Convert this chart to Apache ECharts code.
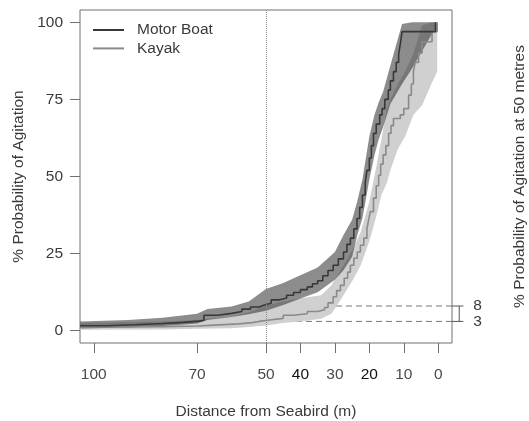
<!DOCTYPE html>
<html>
<head>
<meta charset="utf-8">
<script src="https://cdn.jsdelivr.net/npm/echarts@6/dist/echarts.min.js"></script>
<style>
  html, body { margin: 0; padding: 0; background: #fff; }
  #chart { width: 529px; height: 421px; }
</style>
</head>
<body>
<div id="chart"></div>
<script>
// distance from seabird (m), % probability of agitation
const motorLine = [
  [104, 1.6], [96, 1.9], [88, 2.3], [80, 2.7], [74, 3.1], [69.5, 3.4], [68, 5.0], [64, 5.6],
  [60, 6.2], [57, 7.0], [54.5, 7.7], [52, 8.3], [50.5, 8.9], [48.5, 10.0], [46, 10.6], [44, 11.5],
  [42, 12.4], [40, 13.3], [38, 14.2], [36.5, 15.2], [35, 16.2], [33.5, 17.8], [32, 19.5],
  [30.5, 21.2], [29, 23.3], [27.5, 25.5], [26.5, 28], [25.5, 30], [24.5, 33], [23.6, 36.4],
  [22.8, 40], [22, 44], [21.2, 48], [20.7, 52], [20, 56], [19.4, 60], [18.8, 64], [18, 67],
  [17, 70], [16.3, 72], [15.5, 75], [14.5, 78], [13.9, 81], [13, 84], [12.2, 87], [11.5, 89.5],
  [11, 93], [10.5, 97], [0.8, 100]
];
// [distance, lower, upper]
const motorBand = [
  [104, 0.7, 3.0], [90, 1.0, 3.5], [80, 1.5, 4.2], [70, 2.3, 5.5], [67, 3.5, 7.0], [60, 4.4, 7.8],
  [55, 5.3, 9.5], [50, 6.5, 13.5], [45, 8.3, 15.5], [40, 10.4, 18], [35, 12.5, 20.5],
  [30, 16.5, 25.5], [27.5, 19.6, 31], [25, 24, 36], [23.5, 31, 42], [22, 36.5, 49], [20, 49, 63],
  [18.5, 57, 70], [17.3, 62, 74], [16, 66, 77.5], [13.9, 73.5, 86], [10.5, 80, 99.5],
  [7.6, 85, 100], [1.4, 97, 100], [0.5, 97, 100]
];
const kayakLine = [
  [104, 1.2], [90, 1.3], [80, 1.5], [70, 1.8], [65, 2.2], [58, 2.6], [54, 3.0], [52, 3.4],
  [49.5, 4.0], [45, 5.0], [42, 5.5], [38, 6.2], [35, 6.8], [33, 7.5], [32, 9.0], [30.5, 11],
  [29.5, 13], [28.4, 14.7], [27.3, 17], [26.3, 19], [25.5, 21.2], [24.5, 23.5], [23.5, 25.5],
  [22.6, 27.7], [21.6, 30], [20.7, 33], [20.2, 36], [19.7, 38.6], [18.8, 43], [18, 47],
  [17.3, 50.4], [16.7, 54], [16, 57], [15.2, 60], [14.4, 64], [13.7, 66.5], [13, 68.8],
  [11, 70], [10, 72], [8.6, 76.4], [7.8, 80], [7.2, 84], [6.7, 87], [5.7, 90], [4.7, 93.7],
  [1.8, 97], [0.3, 100]
];
const kayakBand = [
  [104, 0.3, 2.5], [80, 0.4, 3], [70, 0.6, 3.5], [60, 0.8, 4.5], [55, 1.2, 6], [50, 1.7, 8.2],
  [45, 2.5, 9.5], [40, 3.0, 10.5], [34, 3.9, 11.5], [31, 5.5, 14.7], [27.5, 11.5, 21.2],
  [25, 16, 26], [22.5, 21.2, 32], [20, 29, 42], [18, 37, 53], [16.5, 44, 62], [14.9, 48, 72],
  [13.9, 52, 75], [11.7, 59, 80], [9.6, 63, 84], [7.2, 70, 90], [4.7, 73, 99], [2, 80, 100],
  [0.3, 84, 100]
];
const xTicks = [100, 70, 50, 40, 30, 20, 10, 0];
const yTicks = [0, 25, 50, 75, 100];
const refDistance = 50;
const at50 = [8, 3];

const font = 'Liberation Sans, Arial, sans-serif';
const txt = '#3a3a3a';

// confidence band as one polygon through the axis scales
const bandSeries = (name, band, color) => ({
  type: 'custom', name: name, silent: true, clip: true,
  encode: { x: 0, y: [1, 2] },
  data: band,
  renderItem: (params, api) => {
    if (params.dataIndex !== 0) return;
    const upper = band.map(r => api.coord([r[0], r[2]]));
    const lower = band.map(r => api.coord([r[0], r[1]])).reverse();
    return {
      type: 'polygon',
      shape: { points: upper.concat(lower) },
      style: { fill: color, stroke: null }
    };
  }
});

const option = {
  animation: false,
  grid: {
    left: 80, right: 77, top: 10, bottom: 78, containLabel: false, outerBoundsMode: 'none',
    show: true, borderColor: '#707070', borderWidth: 1
  },
  legend: {
    data: [
      { name: 'Motor Boat', icon: 'rect' },
      { name: 'Kayak', icon: 'rect' }
    ],
    orient: 'vertical', left: 88, top: 17,
    itemWidth: 31, itemHeight: 2, itemGap: 2.4,
    textStyle: { fontFamily: font, fontSize: 15.5, color: txt, padding: [0, 0, 0, 8] }
  },
  xAxis: {
    type: 'value', inverse: true, min: -4, max: 104,
    name: 'Distance from Seabird (m)', nameLocation: 'middle', nameGap: 61,
    nameTextStyle: { fontFamily: font, fontSize: 15.5, color: txt },
    axisLine: { show: false, onZero: false },
    axisTick: { customValues: xTicks, length: 10, lineStyle: { color: '#707070' } },
    axisLabel: {
      customValues: xTicks, margin: 24, fontFamily: font, fontSize: 15.5, color: '#4a4a4a',
      formatter: v => (v === 40 || v === 20) ? '{b|' + v + '}' : String(v),
      rich: { b: { fontFamily: font, fontSize: 15.5, color: '#111' } }
    },
    splitLine: { show: false }
  },
  yAxis: [
    {
      type: 'value', min: -4, max: 104,
      name: '% Probability of Agitation', nameLocation: 'middle', nameGap: 52, nameRotate: 90,
      nameTextStyle: { fontFamily: font, fontSize: 15.5, color: txt },
      axisLine: { show: false, onZero: false },
      axisTick: { customValues: yTicks, length: 10, lineStyle: { color: '#707070' } },
      axisLabel: { customValues: yTicks, margin: 17, fontFamily: font, fontSize: 15.5, color: '#3a3a3a' },
      splitLine: { show: false }
    },
    {
      type: 'value', min: -4, max: 104, position: 'right',
      name: '% Probability of Agitation at 50 metres', nameLocation: 'middle', nameGap: 60, nameRotate: 90,
      nameTextStyle: { fontFamily: font, fontSize: 15.5, color: txt },
      axisLine: { show: false, onZero: false }, axisTick: { show: false }, axisLabel: { show: false },
      splitLine: { show: false }
    }
  ],
  series: [
    bandSeries('Kayak band', kayakBand, '#d0d0d0'),
    bandSeries('Motor band', motorBand, 'rgba(45,45,45,0.55)'),
    {
      type: 'line', name: 'Kayak', step: 'end', symbol: 'none',
      lineStyle: { color: '#8a8a8a', width: 1.6 }, itemStyle: { color: '#8a8a8a' },
      data: kayakLine
    },
    {
      type: 'line', name: 'Motor Boat', step: 'end', symbol: 'none',
      lineStyle: { color: '#383838', width: 1.6 }, itemStyle: { color: '#383838' },
      data: motorLine,
      markLine: {
        silent: true, symbol: 'none', label: { show: false },
        lineStyle: { color: '#8a8a8a', type: 'dotted', width: 1 },
        data: [{ xAxis: refDistance }]
      }
    }
  ]
};

const chart = echarts.init(document.getElementById('chart'));
chart.setOption(option);

// dashed guides at 50 m, with the little bracket and labels outside the box
const px = (d, p) => chart.convertToPixel({ xAxisIndex: 0, yAxisIndex: 0 }, [d, p]);
const graphics = [];
at50.forEach(v => {
  const a = px(refDistance, v), b = px(-4, v), c = px(-7.3, v), t = px(-11.4, v);
  graphics.push({ type: 'line', shape: { x1: a[0], y1: a[1], x2: b[0], y2: b[1] },
    style: { stroke: '#777', lineWidth: 1, lineDash: [6, 4] }, silent: true });
  graphics.push({ type: 'line', shape: { x1: b[0], y1: b[1], x2: c[0], y2: c[1] },
    style: { stroke: '#555', lineWidth: 1 }, silent: true });
  graphics.push({ type: 'text', x: t[0], y: t[1],
    style: { text: String(v), font: '15.5px ' + font, fill: txt, align: 'center', verticalAlign: 'middle' }, silent: true });
});
const brTop = px(-6.1, Math.max(...at50)), brBot = px(-6.1, Math.min(...at50));
graphics.push({ type: 'line', shape: { x1: brTop[0], y1: brTop[1], x2: brBot[0], y2: brBot[1] },
  style: { stroke: '#555', lineWidth: 1 }, silent: true });
chart.setOption({ graphic: graphics });
</script>
</body>
</html>
